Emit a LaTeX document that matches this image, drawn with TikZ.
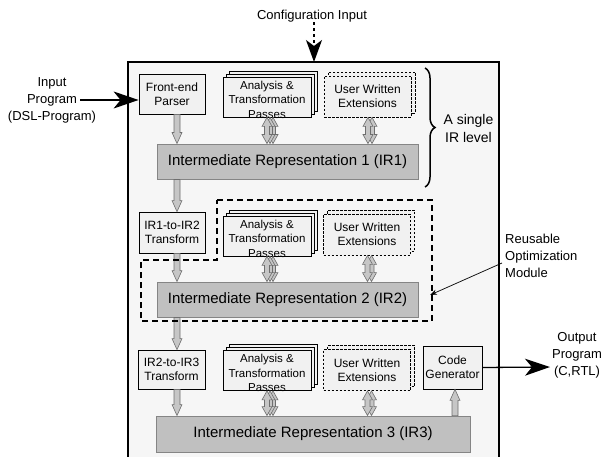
\documentclass[tikz,border=0pt]{standalone}
\usepackage{fontspec}
\setmainfont{Liberation Sans}
\usetikzlibrary{calc,arrows.meta,decorations.pathreplacing}

\definecolor{panelfill}{HTML}{F6F6F6}
\definecolor{boxfill}{HTML}{F1F1F1}
\definecolor{irfill}{HTML}{C0C0C0}
\definecolor{irline}{HTML}{858585}
\definecolor{blkfill}{HTML}{C6C6C6}
\definecolor{blkline}{HTML}{6E6E6E}

\tikzset{
  stagebox/.style={draw=black, line width=0.8pt, fill=boxfill, inner sep=0pt,
    align=center, font=\fontsize{12}{14.4}\selectfont},
  passbox/.style={draw=black, line width=0.8pt, fill=boxfill, inner sep=0pt,
    minimum width=88pt, minimum height=40pt},
  passtext/.style={inner sep=0pt, align=center, font=\fontsize{11.5}{14.5}\selectfont},
  extbox/.style={draw=black, line width=0.8pt, dash pattern=on 2.5pt off 1.5pt,
    fill=boxfill, inner sep=0pt, minimum width=87pt, minimum height=41pt,
    align=center, font=\fontsize{12}{14.4}\selectfont},
  irbox/.style={draw=irline, line width=0.9pt, fill=irfill, inner sep=0pt,
    font=\fontsize{15}{18}\selectfont},
  blk/.style={draw=blkline, line width=0.6pt, fill=blkfill},
  outlabel/.style={inner sep=0pt, align=center, font=\fontsize{13}{17}\selectfont},
  bigtip/.style={-{Stealth[length=25pt,width=17pt,inset=7pt]}, line width=1.3pt},
  moduleline/.style={line width=1.6pt, dash pattern=on 6pt off 4pt},
}

% vertical block arrow: x from the first point, head at the second
\newcommand\blockarrow[2]{%
  \draw[blk] let \p1=#1, \p2=#2, \n1={sign(\y2-\y1)} in
    ({\x1-3pt},{\y1}) -- ({\x1+3pt},{\y1}) -- ({\x1+3pt},{\y2-(\n1)*11pt})
    -- ({\x1+5pt},{\y2-(\n1)*11pt}) -- ({\x1},{\y2})
    -- ({\x1-5pt},{\y2-(\n1)*11pt}) -- ({\x1-3pt},{\y2-(\n1)*11pt}) -- cycle;}

% vertical double-headed block arrow
\newcommand\duplex[2]{%
  \draw[blk] let \p1=#1, \p2=#2, \n1={sign(\y2-\y1)} in
    ({\x1},{\y1}) -- ({\x1+5pt},{\y1+(\n1)*9pt}) -- ({\x1+2.5pt},{\y1+(\n1)*9pt})
    -- ({\x1+2.5pt},{\y2-(\n1)*9pt}) -- ({\x1+5pt},{\y2-(\n1)*9pt}) -- ({\x1},{\y2})
    -- ({\x1-5pt},{\y2-(\n1)*9pt}) -- ({\x1-2.5pt},{\y2-(\n1)*9pt})
    -- ({\x1-2.5pt},{\y1+(\n1)*9pt}) -- ({\x1-5pt},{\y1+(\n1)*9pt}) -- cycle;}

% stacked pass boxes
\newcommand\passstack[3]{%
  \node[passbox] (#1-c) at (#2+6,#3-6) {};
  \node[passbox] (#1-b) at (#2+3,#3-3) {};
  \node[passbox] (#1) at (#2,#3) {};
  \node[passtext] (#1-t) at ($(#1.center)+(0,2.5)$) {Analysis \&\\Transformation\\Passes};}

% stacked extension boxes
\newcommand\extstack[3]{%
  \node[extbox] (#1-b) at (#2+4,#3-4) {};
  \node[extbox] (#1) at (#2,#3) {User Written\\Extensions};}

\begin{document}
\begin{tikzpicture}[x=1pt,y=-1pt]
  \clip (0,0) rectangle (604,457);

  % framework panel
  \draw[line width=1.4pt, fill=panelfill] (128,62) rectangle (499,470);

  % IR level 1
  \node[stagebox, minimum width=66pt, minimum height=40pt] (fe) at (172,94) {Front-end\\Parser};
  \passstack{an1}{267}{97}
  \extstack{ue1}{367.5}{96.5}
  \node[irbox, minimum width=261pt, minimum height=35pt] (ir1) at (287.5,161.5)
    {Intermediate Representation 1 (IR1)};

  % IR level 2
  \node[stagebox, minimum width=66pt, minimum height=41pt] (t12) at (172,232.5) {IR1-to-IR2\\Transform};
  \passstack{an2}{267}{236}
  \extstack{ue2}{367}{234.5}
  \node[irbox, minimum width=261pt, minimum height=35pt] (ir2) at (287.5,299.5)
    {Intermediate Representation 2 (IR2)};

  % IR level 3
  \node[stagebox, minimum width=67pt, minimum height=39pt] (t23) at (171.5,369.5) {IR2-to-IR3\\Transform};
  \passstack{an3}{267}{370.5}
  \extstack{ue3}{367}{370}
  \node[stagebox, minimum width=59pt, minimum height=43pt] (cg) at (452.5,367.5) {Code\\Generator};
  \node[irbox, minimum width=314pt, minimum height=36pt] (ir3) at (313,434)
    {Intermediate Representation 3 (IR3)};

  % main flow down the left lane
  \coordinate (lane) at (177,0);
  \blockarrow{(fe.south -| lane)}{(ir1.north)}
  \blockarrow{(ir1.south -| lane)}{(t12.north)}
  \blockarrow{(t12.south -| lane)}{(ir2.north)}
  \blockarrow{(ir2.south -| lane)}{(t23.north)}
  \blockarrow{(t23.south -| lane)}{(ir3.north)}
  \blockarrow{($(ir3.north -| cg.south)+(2.5,0)$)}{(cg.south)}

  % passes and extensions exchange with each IR
  \foreach \lv in {1,2,3}{
    \duplex{($(an\lv.south)+(6,0)$)}{(ir\lv.north)}
    \duplex{($(an\lv.south)+(3,0)$)}{(ir\lv.north)}
    \duplex{(an\lv.south)}{(ir\lv.north)}
    \duplex{($(ue\lv.south)+(4.5,0)$)}{(ir\lv.north)}
    \duplex{($(ue\lv.south)+(0.5,0)$)}{(ir\lv.north)}
  }

  % reusable optimization module outline
  \draw[moduleline] (217,200) -- (432,200) -- (432,321) -- (141,321)
    -- (141,260) -- (217,260) -- cycle;

  % external inputs and outputs
  \node[outlabel] (cfg) at (312,16) {Configuration Input};
  \coordinate (cfg-in) at (314,62);
  \draw[line width=1.2pt, dash pattern=on 3pt off 3pt,
    -{Stealth[length=22pt,width=16pt,inset=6pt]}] (cfg.south -| cfg-in) -- (cfg-in);

  \node[outlabel] (inp) at (52,100) {Input\\Program\\(DSL-Program)};
  \coordinate (inp-r) at (80,100);
  \draw[bigtip] (inp-r) -- (inp-r -| fe.west);

  \node[outlabel] (outp) at (577,355) {Output\\Program\\(C,RTL)};
  \coordinate (outp-l) at (550,367);
  \draw[bigtip] (cg.east) -- (outp-l);

  % annotations
  \coordinate (br-top) at (425,68);
  \coordinate (br-bot) at (425,187);
  \draw[decorate, decoration={brace, amplitude=10pt}, line width=1.5pt] (br-top) -- (br-bot);
  \node[outlabel, font=\fontsize{14}{18}\selectfont] (lvl) at (468.5,128) {A single\\IR level};

  \node[outlabel, align=left, anchor=west] (reuse) at (505,256) {Reusable\\Optimization\\Module};
  \coordinate (mod-edge) at (430,295);
  \draw[line width=0.7pt, -{Stealth[length=7pt,width=5pt]}] ($(reuse.west)+(-3,7)$) -- (mod-edge);
\end{tikzpicture}
\end{document}
